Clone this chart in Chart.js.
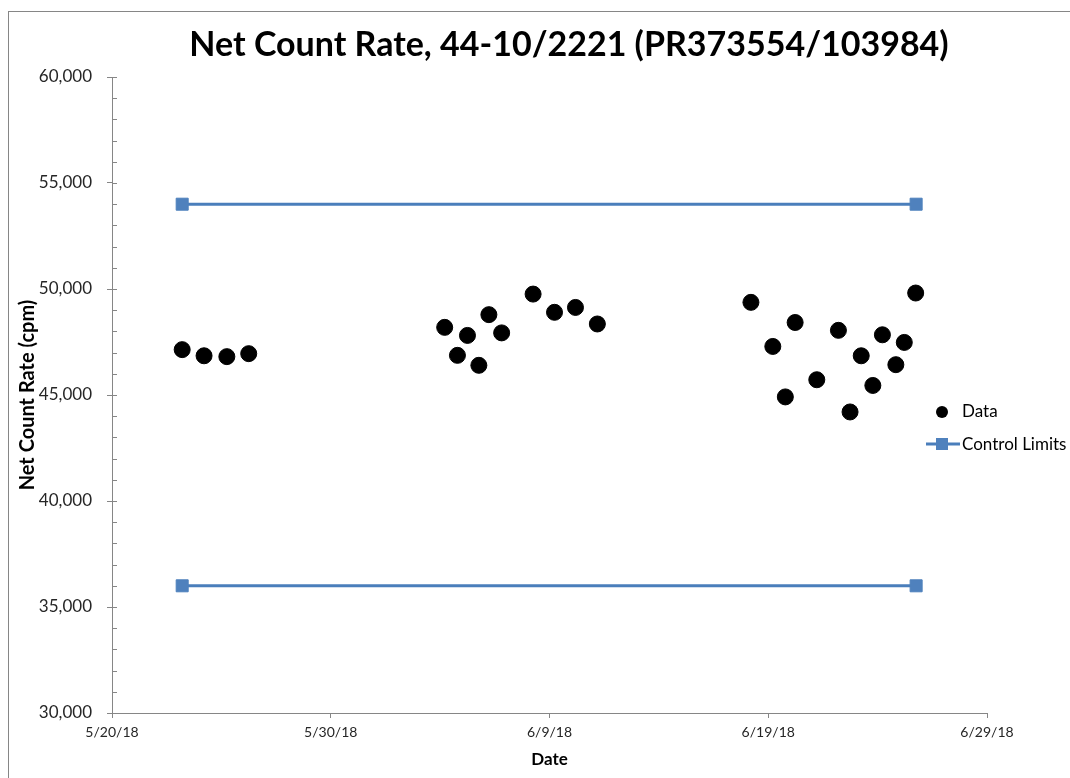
<!DOCTYPE html>
<html>
<head>
<meta charset="utf-8">
<script src="https://cdn.jsdelivr.net/npm/chart.js@4/dist/chart.umd.min.js"></script>
<style>
  html, body { margin: 0; padding: 0; background: #fff; overflow: hidden; }
  #wrap { width: 1070px; height: 778px; }
</style>
</head>
<body>
<div id="wrap"><canvas id="chart" width="1070" height="778"></canvas></div>
<script>
// chart data
const chartTitle = 'Net Count Rate, 44-10/2221 (PR373554/103984)';
const dataDates = [
  '2018-05-23T05:00', '2018-05-24T05:00', '2018-05-25T06:00', '2018-05-26T06:00',
  '2018-06-04T05:00', '2018-06-04T19:00', '2018-06-05T06:00', '2018-06-05T18:30',
  '2018-06-06T05:30', '2018-06-06T19:30', '2018-06-08T06:00', '2018-06-09T05:30',
  '2018-06-10T04:30', '2018-06-11T04:30',
  '2018-06-18T05:00', '2018-06-19T05:00', '2018-06-19T18:45', '2018-06-20T05:30',
  '2018-06-21T05:15', '2018-06-22T05:00', '2018-06-22T17:45', '2018-06-23T06:00',
  '2018-06-23T18:45', '2018-06-24T05:15', '2018-06-24T20:00', '2018-06-25T05:15',
  '2018-06-25T17:45'
];
const dataValues = [
  47140, 46850, 46810, 46950,
  48190, 46870, 47810, 46400,
  48790, 47930, 49760, 48900,
  49130, 48350,
  49370, 47290, 44910, 48420,
  45720, 48050, 44200, 46850,
  45450, 47840, 46430, 47480,
  49810
];
const limitDates = ['2018-05-23T05:00', '2018-06-25T18:15'];
const upperLimit = [54000, 54000];
const lowerLimit = [36000, 36000];
const xTickDays = [0, 10, 20, 30, 40]; // days after 5/20/18

const FONT = 'Lato';
const AXIS_GREY = '#868686';
const LIMIT_BLUE = '#4a7ebb';
const TICK_TEXT = '#262626';

const baseDay = Date.UTC(2018, 4, 20);
const toDay = s => (Date.parse(s + ':00Z') - baseDay) / 864e5;
const pts = (dates, vals) => dates.map((d, i) => ({ x: toDay(d), y: vals[i] }));

function dateLabel(v) {
  const d = new Date(baseDay + v * 864e5);
  return (d.getUTCMonth() + 1) + '/' + d.getUTCDate() + '/' + String(d.getUTCFullYear()).slice(2);
}

// border, title, legend and the inside minor ticks
const extras = {
  id: 'extras',
  beforeDraw(chart) {
    const ctx = chart.ctx;
    ctx.save();
    ctx.fillStyle = '#fff';
    ctx.fillRect(0, 0, chart.width, chart.height);
    ctx.strokeStyle = AXIS_GREY;
    ctx.lineWidth = 1;
    ctx.strokeRect(8.5, 11.5, 1200, 900);
    ctx.restore();
  },
  afterDraw(chart) {
    const ctx = chart.ctx;
    const ys = chart.scales.y;
    ctx.save();
    // minor ticks inside the axis
    ctx.strokeStyle = AXIS_GREY;
    ctx.lineWidth = 1;
    ctx.beginPath();
    ys.ticks.forEach(t => {
      const py = Math.round(ys.getPixelForValue(t.value)) + 0.5;
      ctx.moveTo(ys.right, py);
      ctx.lineTo(ys.right + 5, py);
    });
    ctx.stroke();

    // title
    ctx.fillStyle = '#000';
    ctx.font = 'bold 34px ' + FONT;
    ctx.textAlign = 'center';
    ctx.textBaseline = 'middle';
    ctx.fillText(chartTitle, 569, 45);

    // legend
    const lx = 942;
    ctx.font = '17px ' + FONT;
    ctx.textAlign = 'left';
    ctx.fillStyle = '#000';
    ctx.beginPath();
    ctx.arc(lx, 412, 6, 0, Math.PI * 2);
    ctx.fill();
    ctx.fillText('Data', 962, 412);

    ctx.strokeStyle = LIMIT_BLUE;
    ctx.lineWidth = 3;
    ctx.beginPath();
    ctx.moveTo(926, 444);
    ctx.lineTo(960, 444);
    ctx.stroke();
    ctx.fillStyle = '#4f81bd';
    ctx.fillRect(lx - 6, 438, 12, 12);
    ctx.fillStyle = '#000';
    ctx.fillText('Control Limits', 962, 445);
    ctx.restore();
  }
};

new Chart(document.getElementById('chart'), {
  type: 'scatter',
  data: {
    datasets: [
      {
        label: 'Data',
        data: pts(dataDates, dataValues),
        pointRadius: 8,
        pointHoverRadius: 8,
        backgroundColor: '#000',
        borderColor: '#000',
        showLine: false
      },
      {
        label: 'Control Limits',
        data: pts(limitDates, upperLimit),
        showLine: true,
        borderColor: LIMIT_BLUE,
        borderWidth: 3,
        pointStyle: 'rect',
        pointRadius: 8.5,
        pointBackgroundColor: '#4f81bd',
        pointBorderColor: '#4f81bd',
        pointBorderWidth: 1
      },
      {
        label: 'Control Limits',
        data: pts(limitDates, lowerLimit),
        showLine: true,
        borderColor: LIMIT_BLUE,
        borderWidth: 3,
        pointStyle: 'rect',
        pointRadius: 8.5,
        pointBackgroundColor: '#4f81bd',
        pointBorderColor: '#4f81bd',
        pointBorderWidth: 1
      }
    ]
  },
  options: {
    responsive: false,
    animation: false,
    events: [],
    layout: { padding: { top: 77, right: 83, bottom: 0, left: 0 } },
    plugins: {
      legend: { display: false },
      title: { display: false },
      tooltip: { enabled: false }
    },
    scales: {
      x: {
        type: 'linear',
        min: xTickDays[0],
        max: xTickDays[xTickDays.length - 1],
        afterBuildTicks(scale) {
          scale.ticks = xTickDays.map(v => ({ value: v }));
        },
        afterFit(scale) { scale.height = 65; },
        border: { color: AXIS_GREY, width: 1 },
        grid: { drawOnChartArea: false, drawTicks: true, tickLength: 5, color: AXIS_GREY },
        ticks: {
          autoSkip: false,
          maxRotation: 0,
          padding: 6,
          color: TICK_TEXT,
          font: { family: FONT, size: 14 },
          callback: v => dateLabel(v)
        },
        title: {
          display: true,
          text: 'Date',
          color: '#000',
          font: { family: FONT, size: 17, weight: 'bold' },
          padding: { top: 8, bottom: 8 }
        }
      },
      y: {
        min: 30000,
        max: 60000,
        afterFit(scale) { scale.width = 112; },
        border: { color: AXIS_GREY, width: 1 },
        grid: {
          drawOnChartArea: false,
          drawTicks: true,
          tickLength: 5,
          tickColor: c => (c.tick && c.tick.value % 5000 === 0) ? AXIS_GREY : 'rgba(0,0,0,0)'
        },
        ticks: {
          stepSize: 1000,
          autoSkip: false,
          padding: 15,
          color: TICK_TEXT,
          font: { family: FONT, size: 17 },
          callback: v => (v % 5000 === 0) ? v.toLocaleString('en-US') : ''
        },
        title: {
          display: true,
          text: 'Net Count Rate (cpm)',
          color: '#000',
          font: { family: FONT, size: 20, weight: 'bold' },
          padding: { top: 16, bottom: 2 }
        }
      }
    }
  },
  plugins: [extras]
});
</script>
</body>
</html>
